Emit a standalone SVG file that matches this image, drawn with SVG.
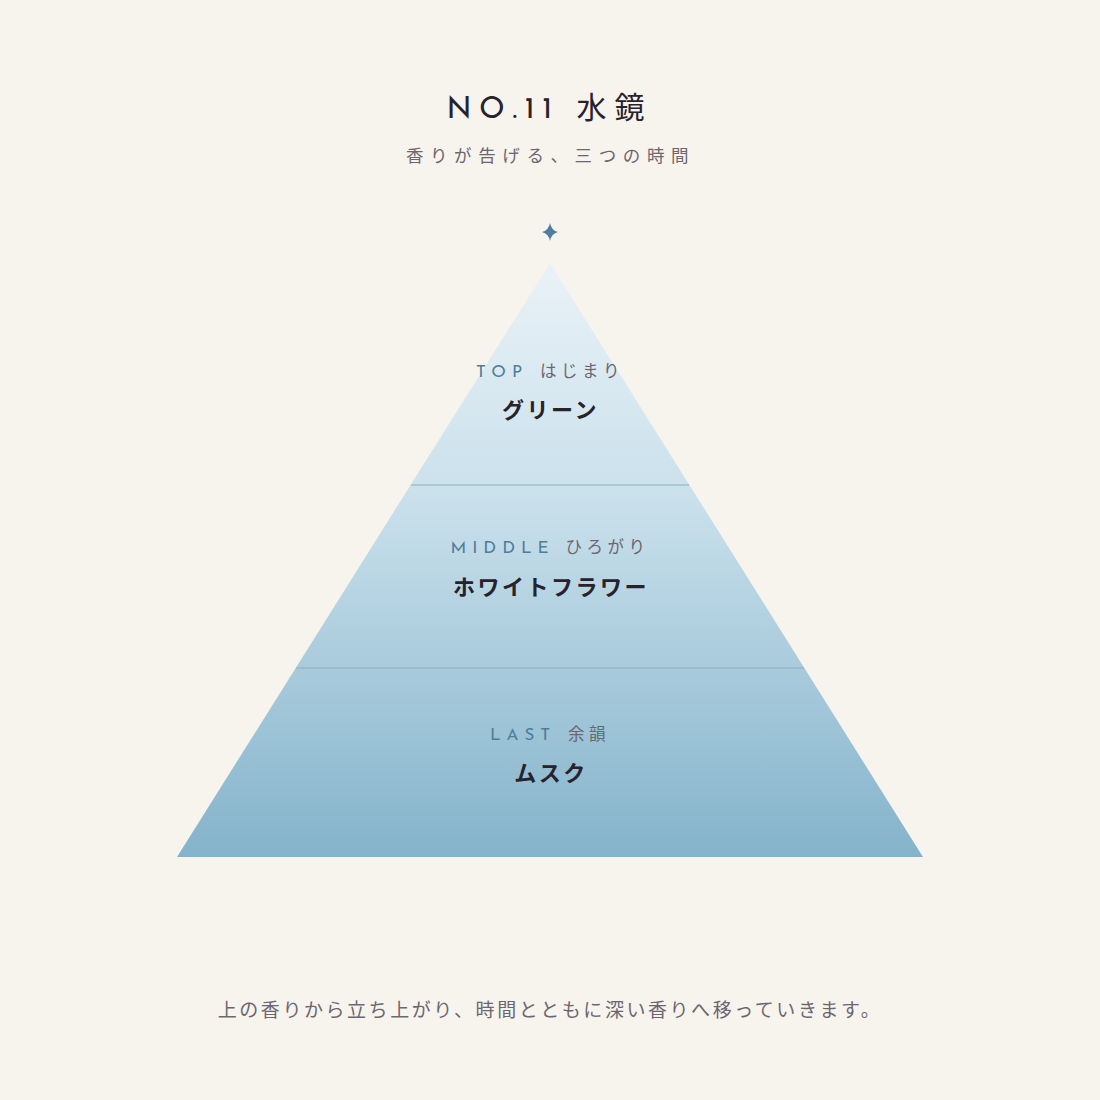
<svg xmlns="http://www.w3.org/2000/svg" width="1100" height="1100" viewBox="0 0 1100 1100">
<defs>
<linearGradient id="g" x1="0" y1="263" x2="0" y2="857" gradientUnits="userSpaceOnUse">
<stop offset="0" stop-color="#EAF2F7"/>
<stop offset="0.4" stop-color="#C9E0EB"/>
<stop offset="1" stop-color="#84B3CB"/>
</linearGradient>
<style>
.en{font-family:"Josefin Sans","Open Sans","Liberation Sans",sans-serif;}
.jp{font-family:"Noto Sans CJK JP","Noto Sans",sans-serif;}
.title{font-size:30px;fill:#27222C;letter-spacing:8px;}
.sub{font-size:17.5px;fill:#6D6670;letter-spacing:6.6px;}
.tier{font-size:17px;fill:#4E7D9C;letter-spacing:6px;}
.tierjp{font-size:16.5px;fill:#6D6670;letter-spacing:4.5px;}
.note{font-size:22px;font-weight:700;fill:#27222C;letter-spacing:2.5px;}
.foot{font-size:19px;fill:#6D6670;letter-spacing:2.55px;}
.div{stroke:#8EAFC2;stroke-width:1.2;}
</style>
</defs>
<rect width="1100" height="1100" fill="#F7F4EE"/>
<g id="header">
<text x="549.5" y="118" text-anchor="middle" class="title"><tspan class="en" letter-spacing="7.5">NO.11</tspan><tspan class="jp" dx="17">水鏡</tspan></text>
<text x="550.5" y="162" text-anchor="middle" class="jp sub">香りが告げる、三つの時間</text>
</g>
<g id="star">
<path d="M550 223 Q551.5 230.5 558 232 Q551.5 233.5 550 241 Q548.5 233.5 542 232 Q548.5 230.5 550 223 Z" fill="#4E7FA0"/>
</g>
<g id="pyramid">
<polygon points="550,263 923,857 177,857" fill="url(#g)"/>
</g>
<g id="connectors">
<line x1="411" y1="485" x2="689" y2="485" class="div"/>
<line x1="296" y1="668" x2="804" y2="668" class="div"/>
</g>
<g id="top">
<text x="550" y="377" text-anchor="middle"><tspan class="en tier">TOP</tspan><tspan class="jp tierjp" dx="12">はじまり</tspan></text>
<text x="550.5" y="418" text-anchor="middle" class="jp note">グリーン</text>
</g>
<g id="middle">
<text x="550" y="553" text-anchor="middle"><tspan class="en tier">MIDDLE</tspan><tspan class="jp tierjp" dx="11">ひろがり</tspan></text>
<text x="551" y="595" text-anchor="middle" class="jp note">ホワイトフラワー</text>
</g>
<g id="last">
<text x="550" y="740" text-anchor="middle"><tspan class="en tier">LAST</tspan><tspan class="jp tierjp" dx="12">余韻</tspan></text>
<text x="551" y="781" text-anchor="middle" class="jp note">ムスク</text>
</g>
<g id="footer">
<text x="550" y="1017" text-anchor="middle" class="jp foot">上の香りから立ち上がり、時間とともに深い香りへ移っていきます。</text>
</g>
</svg>
